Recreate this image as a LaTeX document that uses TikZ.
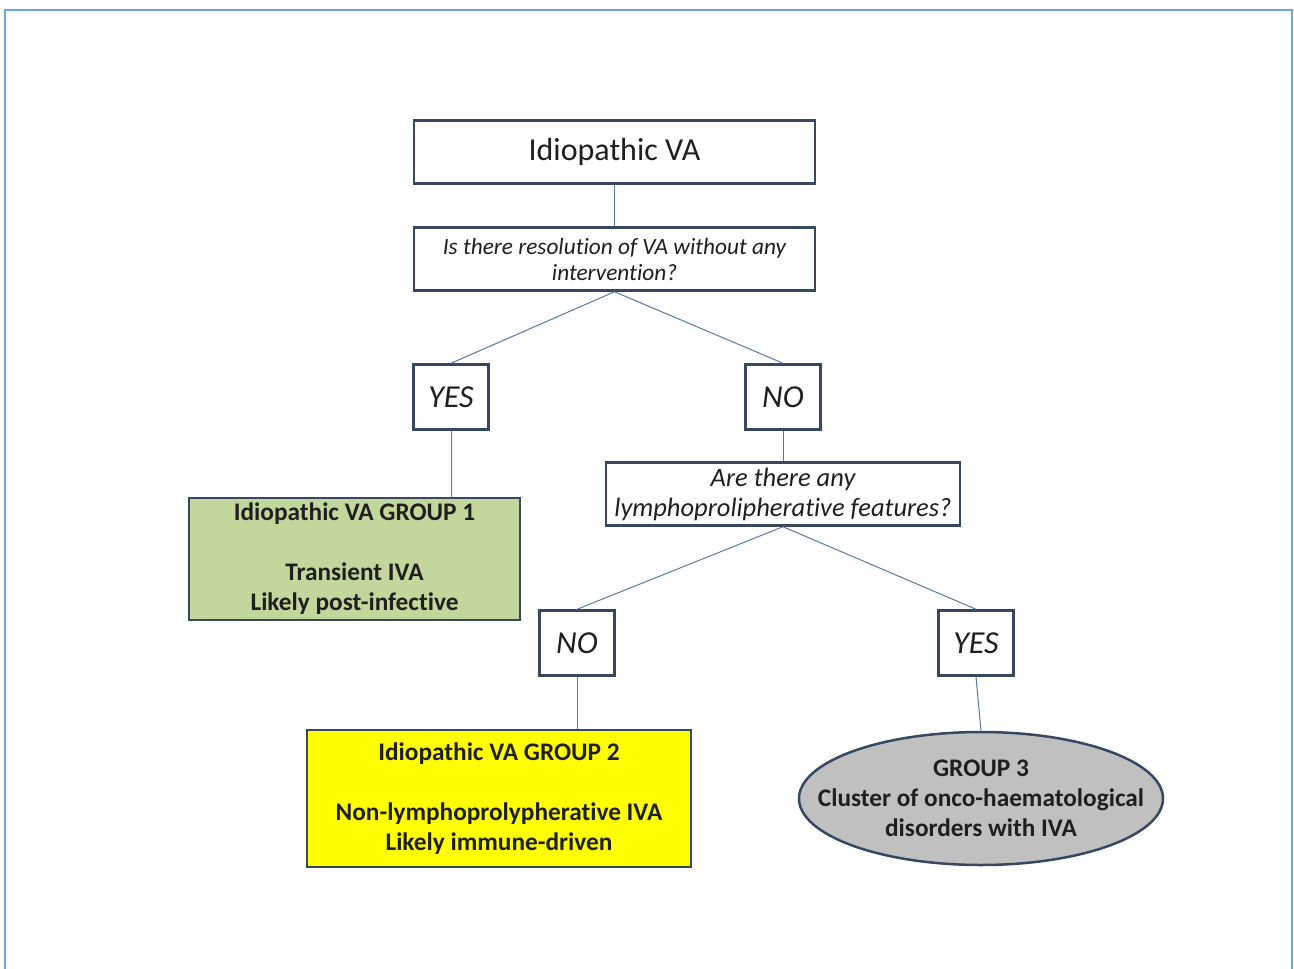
\documentclass[tikz,border=0pt]{standalone}
\usepackage{fontspec}
\setmainfont{Carlito}[Ligatures={NoCommon}]
\usetikzlibrary{shapes.geometric}
\definecolor{bd}{RGB}{56,72,98}
\definecolor{ln}{RGB}{90,122,160}
\definecolor{framec}{RGB}{110,165,225}
\definecolor{grn}{RGB}{195,214,155}
\definecolor{ylw}{RGB}{255,255,0}
\definecolor{gry}{RGB}{192,192,192}
\begin{document}
\begin{tikzpicture}[x=1pt,y=-1pt,
  box/.style={draw=bd,line width=2.5pt,fill=white,inner sep=0pt,align=center,text=black!88},
  yn/.style={box,minimum width=75pt,minimum height=65pt,font=\fontsize{32}{36}\selectfont\itshape},
  grp/.style={box,font=\fontsize{25.3}{30}\selectfont\bfseries},
  conn/.style={draw=ln,line width=1pt}]
\useasboundingbox (0,0) rectangle (1294,969);
\draw[framec,line width=2.5pt] (5,970) -- (5,10) -- (1292,10) -- (1292,970);

\node[box,minimum width=401pt,minimum height=63pt,font=\fontsize{32}{36}\selectfont] (top) at (614.5,152) {Idiopathic VA};
\node[box,minimum width=401pt,minimum height=63pt,font=\fontsize{23.3}{26}\selectfont\itshape] (q1) at (614.5,259) {Is there resolution of VA without any\\intervention?};
\node[yn] (yes1) at (451,397) {YES};
\node[yn] (no1) at (783,397) {NO};
\node[box,minimum width=354pt,minimum height=63pt,font=\fontsize{26.5}{30}\selectfont\itshape] (q2) at (783,494) {Are there any\\lymphoprolipherative features?};
\node[yn] (no2) at (577,643) {NO};
\node[yn] (yes2) at (976,643) {YES};
\node[grp,fill=grn,minimum width=331pt,minimum height=122pt] (g1) at (354.5,559) {Idiopathic VA GROUP 1\\[30pt]Transient IVA\\Likely post-infective};
\node[grp,fill=ylw,minimum width=384pt,minimum height=137pt] (g2) at (499,798.5) {Idiopathic VA GROUP 2\\[30pt]Non-lymphoprolypherative IVA\\Likely immune-driven};
\node[grp,ellipse,fill=gry,minimum width=364pt,minimum height=133pt,inner xsep=-36pt,inner ysep=0pt] (g3) at (981,798.5) {GROUP 3\\Cluster of onco-haematological\\disorders with IVA};

\draw[conn] (top) -- (q1);
\draw[conn] (q1.south) -- (yes1.north);
\draw[conn] (q1.south) -- (no1.north);
\draw[conn] (yes1.south) -- (yes1.south |- g1.north);
\draw[conn] (no1) -- (q2);
\draw[conn] (q2.south) -- (no2.north);
\draw[conn] (q2.south) -- (yes2.north);
\draw[conn] (no2.south) -- (no2.south |- g2.north);
\draw[conn] (yes2.south) -- (g3.north);
\end{tikzpicture}
\end{document}
